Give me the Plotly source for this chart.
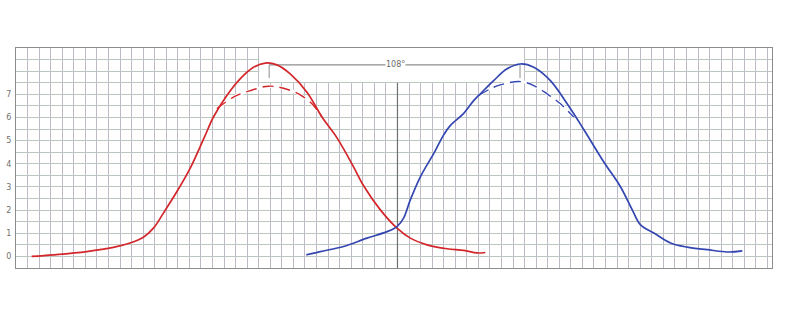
import numpy as np
import plotly.graph_objects as go

# ---- data (x in graph-paper cells, y in chart units) ----
red_x = [1.36, 3.23, 6.12, 8.42, 9.87, 11.02, 11.89, 12.75, 13.91, 15.06, 16.3, 17.08,
         18.24, 19.39, 20.55, 21.56, 22.57, 23.72, 25.17, 26.47, 27.77, 29.2,
         30.07, 31.52, 32.96, 34.11, 35.56, 37.29, 38.73, 39.89, 40.6]
red_y = [0.0, 0.07, 0.21, 0.39, 0.58, 0.83, 1.22, 1.87, 2.79, 3.80, 5.15, 6.02,
         6.95, 7.67, 8.17, 8.35, 8.27, 7.88, 7.09, 6.02, 5.12, 3.87,
         3.05, 2.01, 1.22, 0.79, 0.50, 0.33, 0.26, 0.15, 0.17]

red_dash_x = [17.38, 18.81, 20.26, 21.84, 23.14, 24.59, 25.74, 26.47]
red_dash_y = [6.38, 6.88, 7.16, 7.35, 7.26, 6.98, 6.52, 6.02]

blue_x = [25.11, 26.32, 28.34, 30.36, 32.1, 32.96, 33.53, 34.11, 34.98, 36.13, 37.0, 37.58,
          38.73, 39.59, 40.03, 41.32, 42.48, 43.64, 44.79, 46.23, 47.68, 48.98, 50.85,
          52.29, 53.31, 54.03, 55.18, 56.62, 58.07, 59.8, 61.67, 62.83]
blue_y = [0.07, 0.21, 0.43, 0.79, 1.07, 1.29, 1.65, 2.44, 3.44, 4.44, 5.25, 5.66,
          6.18, 6.73, 6.95, 7.59, 8.10, 8.31, 8.17, 7.59, 6.59, 5.59, 4.08,
          3.01, 2.01, 1.36, 1.01, 0.58, 0.40, 0.29, 0.19, 0.24]

blue_dash_x = [40.03, 41.04, 41.9, 43.64, 44.79, 45.95, 47.1, 48.25]
blue_dash_y = [6.95, 7.24, 7.41, 7.55, 7.38, 7.02, 6.59, 6.02]

y_labels = ["0", "1", "2", "3", "4", "5", "6", "7"]
peak_label = "108°"
red_peak_x = 21.9
blue_peak_x = 43.6
peak_line_y = 8.27
peak_tick_bottom = 7.7
centre_x = 33
grid_gap_x = (21, 44)
grid_gap_y = 7.5

X_RANGE = [0, 65.4]
Y_RANGE = [-0.5, 9.0]

RED = "#d3262b"
BLUE = "#3447b0"

fig = go.Figure()

# white underlay for dashed curves (dash gaps show as white on the grid)
fig.add_trace(go.Scatter(x=red_dash_x, y=red_dash_y, mode="lines", line_shape="spline",
                         line=dict(color="white", width=3), hoverinfo="skip", showlegend=False))
fig.add_trace(go.Scatter(x=blue_dash_x, y=blue_dash_y, mode="lines", line_shape="spline",
                         line=dict(color="white", width=3), hoverinfo="skip", showlegend=False))

fig.add_trace(go.Scatter(x=red_dash_x, y=red_dash_y, mode="lines", line_shape="spline",
                         line=dict(color=RED, width=1.4, dash="11px,6px"), showlegend=False))
fig.add_trace(go.Scatter(x=blue_dash_x, y=blue_dash_y, mode="lines", line_shape="spline",
                         line=dict(color=BLUE, width=1.4, dash="11px,6px"), showlegend=False))

fig.add_trace(go.Scatter(x=red_x, y=red_y, mode="lines", line_shape="spline",
                         line=dict(color=RED, width=1.7), showlegend=False))
fig.add_trace(go.Scatter(x=blue_x, y=blue_y, mode="lines", line_shape="spline",
                         line=dict(color=BLUE, width=1.7), showlegend=False))

# white gap in the grid at the top middle
fig.add_shape(type="rect", x0=grid_gap_x[0] + 0.05, x1=grid_gap_x[1] - 0.05,
              y0=grid_gap_y + 0.03, y1=Y_RANGE[1], line=dict(width=0),
              fillcolor="white", layer="between")
# centre line
fig.add_shape(type="line", x0=centre_x, x1=centre_x, y0=Y_RANGE[0], y1=grid_gap_y,
              line=dict(color="#707070", width=1.2), layer="between")
# peak distance line and ticks
fig.add_shape(type="line", x0=red_peak_x, x1=blue_peak_x - 0.2, y0=peak_line_y, y1=peak_line_y,
              line=dict(color="#8e8e8e", width=1.2), layer="between")
for px in (red_peak_x, blue_peak_x):
    fig.add_shape(type="line", x0=px, x1=px, y0=peak_line_y, y1=peak_tick_bottom,
                  line=dict(color="#8e8e8e", width=1), layer="between")

fig.add_annotation(x=centre_x - 0.2, y=peak_line_y, text=peak_label, showarrow=False,
                   font=dict(family="DejaVu Sans", size=8, color="#6a6a6a"),
                   bgcolor="white", borderpad=0)

# y ticks every half unit (grid), labels only on integers 0..7
tickvals = list(np.arange(Y_RANGE[0], Y_RANGE[1] + 0.01, 0.5))
ticktext = []
for v in tickvals:
    s = str(int(v)) if float(v).is_integer() else ""
    ticktext.append(s if s in y_labels else "")

fig.update_layout(
    width=800, height=311,
    margin=dict(l=16, r=28, t=48, b=43, autoexpand=False),
    paper_bgcolor="white", plot_bgcolor="white",
    showlegend=False,
    xaxis=dict(range=X_RANGE, tick0=0, dtick=1, showticklabels=False, ticks="",
               automargin=False,
               showgrid=True, gridcolor="#c0bac8", gridwidth=1, zeroline=False,
               showline=True, linecolor="#8c8c8c", linewidth=1, mirror=True, fixedrange=True),
    yaxis=dict(range=Y_RANGE, tickmode="array", tickvals=tickvals, ticktext=ticktext, ticks="",
               automargin=False, ticklabelstandoff=2,
               tickfont=dict(family="DejaVu Sans", size=8, color="#707070"),
               showgrid=True, gridcolor="#bac6be", gridwidth=1, zeroline=False,
               showline=True, linecolor="#8c8c8c", linewidth=1, mirror=True, fixedrange=True),
)

fig.write_html("out.html", config={"displayModeBar": False})
